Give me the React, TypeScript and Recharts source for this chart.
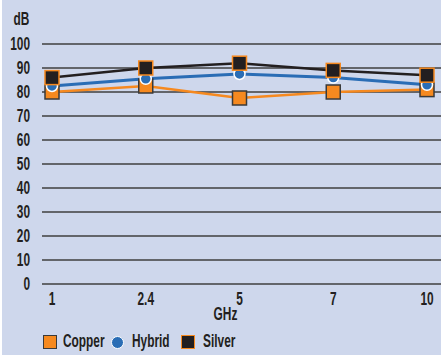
import { CartesianGrid, Legend, Line, LineChart, XAxis, YAxis } from 'recharts';

const frequencies = ['1', '2.4', '5', '7', '10'];
const copper = [80, 82.5, 77.5, 80, 81];
const hybrid = [82.5, 85.5, 87.5, 86, 83];
const silver = [86, 90, 92, 89, 87];
const yTicks = [0, 10, 20, 30, 40, 50, 60, 70, 80, 90, 100];

const ORANGE = '#f6891f';
const BLUE = '#2a6db5';
const BLACK = '#231f20';
const TEXT = '#231f20';
const FONT = '"Liberation Sans", Arial, sans-serif';
const SQUEEZE = 0.66;

const data = frequencies.map((f, i) => ({
  freq: f,
  copper: copper[i],
  hybrid: hybrid[i],
  silver: silver[i],
}));

// narrow, condensed-looking text: regular font squeezed horizontally
const NarrowText = ({ x, y, anchor, dy, children }: any) => (
  <g transform={`translate(${x},${y})`}>
    <text transform={`scale(${SQUEEZE},1)`} textAnchor={anchor} dy={dy} fontFamily={FONT} fontWeight="bold" fontSize={18} fill={TEXT}>
      {children}
    </text>
  </g>
);

const YTick = (props: any) => (
  <NarrowText x={props.x} y={props.y} anchor="end" dy="0.33em">{props.payload.value}</NarrowText>
);

const XTick = (props: any) => (
  <NarrowText x={props.x} y={props.y} anchor="middle" dy="0.72em">{props.payload.value}</NarrowText>
);

const CopperDot = (props: any) => {
  const { cx, cy, index } = props;
  return <rect key={`c-${index}`} x={cx - 7} y={cy - 7} width={14} height={14} fill={ORANGE} stroke="#3a3a3a" strokeWidth={1.5} />;
};

const SilverDot = (props: any) => {
  const { cx, cy, index } = props;
  return <rect key={`s-${index}`} x={cx - 7} y={cy - 7} width={14} height={14} fill={BLACK} stroke={ORANGE} strokeWidth={1.5} />;
};

const HybridDot = (props: any) => {
  const { cx, cy, index } = props;
  return <circle key={`h-${index}`} cx={cx} cy={cy} r={5.5} fill={BLUE} stroke="#fff" strokeWidth={1.5} />;
};

const legendText: React.CSSProperties = {
  position: 'absolute',
  top: 9,
  fontFamily: FONT,
  fontWeight: 'bold',
  fontSize: 18,
  lineHeight: '20px',
  color: TEXT,
  transform: `scaleX(${SQUEEZE})`,
  transformOrigin: 'left',
  whiteSpace: 'nowrap',
};

const LegendRow = () => (
  <div style={{ position: 'relative', height: 36, width: 441 }}>
    <span style={{ position: 'absolute', left: 43, top: 13, width: 14, height: 14, boxSizing: 'border-box', background: ORANGE, border: '1.5px solid #3a3a3a' }} />
    <span style={{ ...legendText, left: 63 }}>Copper</span>
    <span style={{ position: 'absolute', left: 111, top: 14, width: 13, height: 13, boxSizing: 'border-box', borderRadius: '50%', background: BLUE, border: '1.5px solid #fff' }} />
    <span style={{ ...legendText, left: 132 }}>Hybrid</span>
    <span style={{ position: 'absolute', left: 181, top: 13, width: 14, height: 14, boxSizing: 'border-box', background: BLACK, border: `1.5px solid ${ORANGE}` }} />
    <span style={{ ...legendText, left: 203 }}>Silver</span>
  </div>
);

export default function App() {
  return (
    <div style={{ position: 'fixed', top: 0, left: 0, width: 441, height: 358, background: '#fff' }}>
      <div style={{ position: 'absolute', left: 2, top: 0, right: 0, bottom: 3, background: '#ced7ec' }} />
      <div style={{ position: 'absolute', left: 0, top: 0 }}>
        <LineChart width={441} height={358} data={data} margin={{ top: 44, right: 0, left: 0, bottom: 0 }}>
          <CartesianGrid vertical={false} stroke="#3f3f3f" strokeWidth={1.5} />
          <XAxis
            dataKey="freq"
            axisLine={false}
            tickLine={false}
            tickSize={0}
            tickMargin={8}
            height={38}
            interval={0}
            padding={{ left: 10, right: 14 }}
            tick={XTick}
            label={{
              content: ({ viewBox }: any) => (
                <NarrowText x={viewBox.x + viewBox.width / 2 - 16} y={viewBox.y + 36} anchor="middle" dy={0}>GHz</NarrowText>
              ),
            }}
          />
          <YAxis
            domain={[0, 100]}
            ticks={yTicks}
            interval={0}
            axisLine={false}
            tickLine={false}
            tickSize={0}
            tickMargin={12}
            width={42}
            tick={YTick}
            label={{
              content: ({ viewBox }: any) => (
                <NarrowText x={21.5} y={viewBox.y - 19} anchor="middle" dy={0}>dB</NarrowText>
              ),
            }}
          />
          <Legend verticalAlign="bottom" height={36} content={() => <LegendRow />} />
          <Line dataKey="copper" stroke={ORANGE} strokeWidth={2.5} dot={CopperDot} isAnimationActive={false} />
          <Line dataKey="hybrid" stroke={BLUE} strokeWidth={3} dot={HybridDot} isAnimationActive={false} />
          <Line dataKey="silver" stroke={BLACK} strokeWidth={2.5} dot={SilverDot} isAnimationActive={false} />
        </LineChart>
      </div>
    </div>
  );
}
